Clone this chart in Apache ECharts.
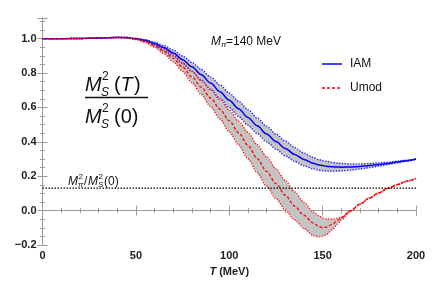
<!DOCTYPE html>
<html><head><meta charset="utf-8">
<script src="https://cdn.jsdelivr.net/npm/echarts@6/dist/echarts.min.js"></script>
<style>html,body{margin:0;padding:0;background:#fff}#c{width:436px;height:282px}</style>
</head><body><div id="c"></div>
<script>
const T = [0,10,20,30,40,45,50,55,60,65,70,75,80,85,90,95,100,105,110,115,120,125,130,135,140,145,148,150,152,155,158,160,165,170,175,180,185,190,195,200];
const iamCenter = [1.0,1.0,1.001,1.004,1.007,1.006,1.0,0.99,0.972,0.948,0.916,0.878,0.836,0.79,0.742,0.692,0.642,0.592,0.542,0.493,0.446,0.402,0.362,0.327,0.298,0.276,0.266,0.262,0.259,0.255,0.254,0.253,0.254,0.257,0.262,0.268,0.275,0.283,0.291,0.3];
const iamUpper = [1.0,1.0,1.001,1.004,1.008,1.007,1.002,0.994,0.98,0.96,0.933,0.9,0.862,0.821,0.778,0.731,0.684,0.636,0.587,0.538,0.491,0.446,0.405,0.367,0.335,0.309,0.297,0.292,0.287,0.281,0.277,0.275,0.272,0.272,0.274,0.278,0.282,0.288,0.294,0.302];
const iamLower = [1.0,1.0,1.001,1.004,1.006,1.005,0.998,0.986,0.964,0.935,0.899,0.856,0.81,0.759,0.706,0.653,0.6,0.548,0.497,0.448,0.401,0.358,0.319,0.287,0.261,0.243,0.235,0.232,0.231,0.229,0.231,0.231,0.236,0.242,0.25,0.258,0.268,0.278,0.288,0.298];
const umodCenter = [1.0,1.0,1.001,1.004,1.007,1.005,0.998,0.984,0.96,0.927,0.885,0.835,0.778,0.718,0.655,0.59,0.523,0.453,0.38,0.303,0.228,0.157,0.09,0.027,-0.027,-0.072,-0.092,-0.098,-0.095,-0.08,-0.058,-0.04,0.0,0.038,0.073,0.103,0.13,0.152,0.171,0.188];
const umodUpper = [1.0,1.0,1.001,1.004,1.008,1.007,1.001,0.99,0.97,0.942,0.905,0.86,0.81,0.757,0.702,0.645,0.585,0.52,0.455,0.383,0.313,0.243,0.175,0.109,0.048,-0.008,-0.03,-0.042,-0.048,-0.05,-0.045,-0.038,0.0,0.038,0.073,0.103,0.13,0.152,0.171,0.188];
const umodLower = [1.0,1.0,1.001,1.004,1.006,1.003,0.995,0.978,0.95,0.912,0.865,0.81,0.745,0.677,0.605,0.533,0.46,0.383,0.303,0.221,0.143,0.071,0.005,-0.053,-0.103,-0.145,-0.152,-0.148,-0.138,-0.112,-0.078,-0.052,-0.003,0.037,0.073,0.103,0.13,0.152,0.171,0.188];
const ratioLine = 0.131;
const yTickLabels = ['\u22120.2','0.0','0.2','0.4','0.6','0.8','1.0'];
const legendNames = ['IAM','Umod'];

const FONT = 'Liberation Sans, Arial, sans-serif';
const pairs = a => a.map((v,i)=>[T[i], v]);

function band(upper, lower, name){
  return {
    type:'custom', name, silent:true, z:1,
    data:[[0,0]],
    renderItem:(params, api)=>{
      const pts = [];
      for(let i=0;i<T.length;i++) pts.push(api.coord([T[i], upper[i]]));
      for(let i=T.length-1;i>=0;i--) pts.push(api.coord([T[i], lower[i]]));
      return {type:'polygon', shape:{points:pts, smooth:0.15}, style:{fill:'#c4c4c4', stroke:null}};
    }
  };
}
function line(name, arr, color, type, width, z){
  return {type:'line', name, data:pairs(arr), symbol:'none', showSymbol:false, smooth:0.3, smoothMonotone:'x',
    lineStyle:{color, type, width}, itemStyle:{color}, z, silent:true};
}

const axisGray = '#9a9a9a';
function xAx(pos, labels){
  return {type:'value', position:pos, min:0, max:200, interval:50,
    axisLine:{show:true, lineStyle:{color:axisGray, width:1}},
    axisTick:{show:true, inside:true, length:5, lineStyle:{color:axisGray}},
    minorTick:{show:true, splitNumber:5, length:2.5, lineStyle:{color:axisGray}},
    splitLine:{show:false},
    axisLabel:{show:labels, margin:5, fontFamily:FONT, fontWeight:'bold', fontSize:11, color:'#222'},
    name: labels ? '{i|T} (MeV)' : '', nameLocation:'middle', nameGap:18,
    nameTextStyle:{fontFamily:FONT, fontWeight:'bold', fontSize:11, color:'#222',
      rich:{i:{fontStyle:'italic', fontWeight:'bold', fontFamily:FONT, fontSize:11, color:'#222'}}}
  };
}
function yAx(pos, labels){
  return {type:'value', position:pos, min:-0.2, max:1.12, interval:0.2,
    axisLine:{show:true, lineStyle:{color:axisGray, width:1}},
    axisTick:{show:true, inside:true, length:5, lineStyle:{color:axisGray}},
    minorTick:{show:true, splitNumber:4, length:2.5, lineStyle:{color:axisGray}},
    splitLine:{show:false},
    axisLabel:{show:labels, margin:6, showMaxLabel:false, fontFamily:FONT, fontWeight:'bold', fontSize:11, color:'#222',
      formatter:v=>{const k=Math.round((v+0.2)/0.2); return (Math.abs(v - (-0.2+0.2*k))<1e-6 && k>=0 && k<yTickLabels.length)? yTickLabels[k] : '';}}
  };
}

function txt(x,y,text,size,italic){
  return {type:'text', x, y, silent:true, z:50,
    style:{text, fill:'#111', font:(italic?'italic ':'')+size+'px '+FONT, verticalAlign:'middle', align:'left'}};
}
function seg(x1,y1,x2,y2,color,w,dash){
  return {type:'line', shape:{x1,y1,x2,y2}, silent:true, z:50,
    style:{stroke:color, lineWidth:w, lineDash:dash||null}};
}

const graphics = [
  // fraction
  txt(85,85,'M',20,true), txt(101,93,'S',12,true), txt(102,77,'2',12,false),
  txt(114,85,'(',20,false), txt(120.5,85,'T',20,true), txt(134,85,')',20,false),
  seg(85,97.5,148,97.5,'#111',1.3),
  txt(85,117,'M',20,true), txt(101,125,'S',12,true), txt(102,109,'2',12,false),
  txt(114,117,'(0)',20,false),
  // M_pi = 140 MeV
  txt(211,42,'M',12,true), txt(221,45,'\u03c0',8,true), txt(226,42,'=140 MeV',12,false),
  // M_pi^2/M_S^2(0)
  txt(68,182,'M',12,true), txt(78,185,'\u03c0',8,true), txt(78.5,177,'2',8,false),
  txt(84,182,'/',12,false), txt(88,182,'M',12,true), txt(98,185,'S',8,true), txt(98.5,177,'2',8,false),
  txt(104,182,'(0)',12,false),
  // legend
  seg(322,64,342,64,'#0000ff',1.5), txt(350,64,legendNames[0],12,false),
  seg(322,88,342,88,'#ff0000',1.3,[3,2]), txt(350,88,legendNames[1],12,false)
];

const chart = echarts.init(document.getElementById('c'), null, {renderer:'canvas'});
chart.setOption({
  animation:false,
  backgroundColor:'#fff',
  grid:{left:42.5, right:20, top:18, bottom:34, containLabel:false},
  xAxis:[xAx('bottom', true), xAx('top', false)],
  yAxis:[yAx('left', true), yAx('right', false)],
  graphic:graphics,
  series:[
    band(iamUpper, iamLower, 'iamBand'),
    band(umodUpper, umodLower, 'umodBand'),
    line('iamU', iamUpper, '#2a2aff', 'dotted', 1.4, 3),
    line('iamL', iamLower, '#2a2aff', 'dotted', 1.4, 3),
    line('umodU', umodUpper, '#ff2020', 'dotted', 1.4, 4),
    line('umodL', umodLower, '#ff2020', 'dotted', 1.4, 4),
    line(legendNames[0], iamCenter, '#0000ff', 'solid', 1.5, 5),
    line(legendNames[1], umodCenter, '#ff0000', [3,2], 1.3, 6),
    {type:'line', name:'ratio', data:[[0,ratioLine],[200,ratioLine]], symbol:'none', silent:true,
      lineStyle:{color:'#000', type:[1.5,1.5], width:1.3}, z:7}
  ]
});
</script></body></html>
